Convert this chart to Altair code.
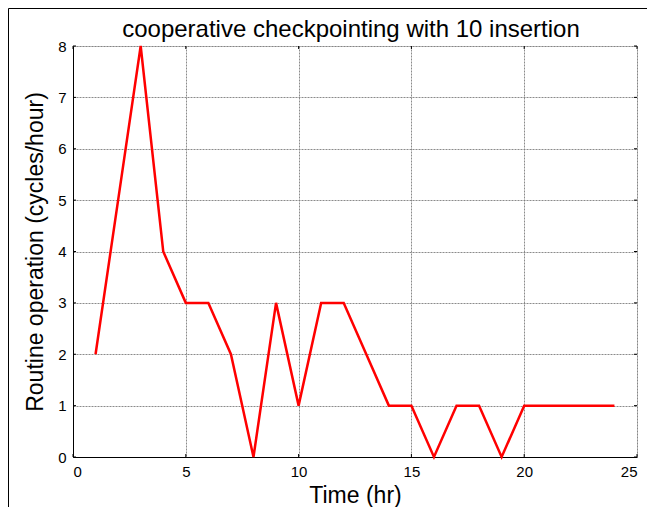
import altair as alt
import pandas as pd

chart_title = ["cooperative checkpointing with 10 insertion"]
time_hr = list(range(1, 25))
routine_ops = [2, 5, 8, 4, 3, 3, 2, 0, 3, 1, 3, 3, 2, 1, 1, 0, 1, 1, 0, 1, 1, 1, 1, 1]
x_ticks = [0, 5, 10, 15, 20, 25]
y_ticks = [0, 1, 2, 3, 4, 5, 6, 7, 8]

W, H = 564, 411
FONT = "Liberation Sans"

df = pd.DataFrame({"t": time_hr, "r": routine_ops})
xt = pd.DataFrame({"t": x_ticks})
yt = pd.DataFrame({"r": y_ticks})
tt = pd.DataFrame({"title": chart_title})

xs = alt.Scale(domain=[0, 25], nice=False, zero=False)
ys = alt.Scale(domain=[0, 8], nice=False)

axis_common = dict(tickSize=0, labelFontSize=15, labelColor="black", titleFontSize=23,
                   titleFontWeight="normal", titleColor="black", domainColor="black",
                   gridColor="#777777", gridDash=[2, 1], gridOpacity=0.85,
                   labelFont=FONT, titleFont=FONT)

line = alt.Chart(df).mark_line(color="#ff0000", strokeWidth=2.5, clip=False).encode(
    x=alt.X("t:Q", scale=xs, title="Time (hr)",
            axis=alt.Axis(values=x_ticks, labelPadding=7, titlePadding=5, **axis_common)),
    y=alt.Y("r:Q", scale=ys, title="Routine operation (cycles/hour)",
            axis=alt.Axis(values=y_ticks, labelPadding=7, titlePadding=10, **axis_common)),
)

tick_b = alt.Chart(xt).mark_rule(color="black").encode(
    x=alt.X("t:Q", scale=xs), y=alt.value(H), y2=alt.value(H - 3))
tick_t = alt.Chart(xt).mark_rule(color="black").encode(
    x=alt.X("t:Q", scale=xs), y=alt.value(0), y2=alt.value(3))
tick_l = alt.Chart(yt).mark_rule(color="black").encode(
    y=alt.Y("r:Q", scale=ys), x=alt.value(0), x2=alt.value(3))
tick_r = alt.Chart(yt).mark_rule(color="black").encode(
    y=alt.Y("r:Q", scale=ys), x=alt.value(W), x2=alt.value(W - 3))

title_mark = alt.Chart(tt).mark_text(
    font=FONT, fontSize=24, color="black", align="center", baseline="alphabetic"
).encode(x=alt.value(W / 2 - 4), y=alt.value(-9), text="title:N")

border_top = alt.Chart(tt).mark_rule(color="black", strokeWidth=1, clip=False).encode(
    x=alt.value(-64.5), x2=alt.value(W + 80), y=alt.value(-37.5))
border_left = alt.Chart(tt).mark_rule(color="black", strokeWidth=1, clip=False).encode(
    x=alt.value(-64.5), y=alt.value(-37.5), y2=alt.value(H + 60))

chart = alt.layer(line, tick_b, tick_t, tick_l, tick_r, title_mark,
                  border_top, border_left).properties(
    width=W, height=H,
    autosize=alt.AutoSizeParams(type="none"),
    padding={"left": 65, "top": 38, "right": 10, "bottom": 50},
).configure_view(stroke="black", strokeWidth=1).configure(background="white")

chart.save("out.html", embed_options={"renderer": "svg", "actions": False})
